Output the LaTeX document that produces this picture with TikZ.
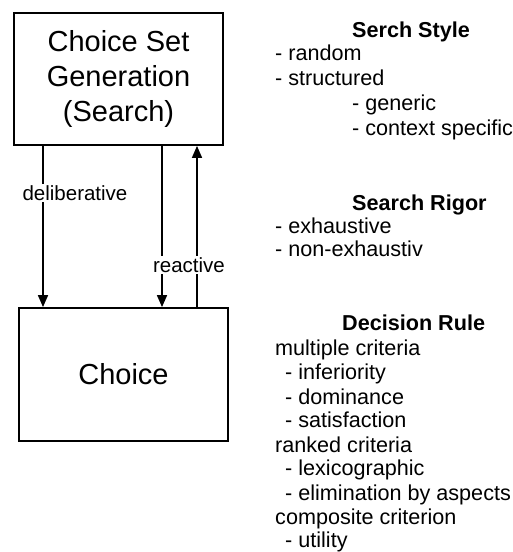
\documentclass[tikz,border=0pt]{standalone}
\usepackage{fontspec}
\setmainfont{Liberation Sans}
\usetikzlibrary{arrows.meta}
\begin{document}
\begin{tikzpicture}[x=1pt,y=-1pt,
  box/.style={draw,line width=1.8pt,minimum width=209pt,inner sep=0pt,align=center,
    font=\fontsize{29}{35}\selectfont},
  arr/.style={line width=1.6pt,-{Triangle[length=12pt,width=10pt]}},
  lbl/.style={fill=white,inner sep=1pt,font=\fontsize{20.5}{24}\selectfont},
  item/.style={anchor=base west,inner sep=0pt,font=\fontsize{21.6}{25}\selectfont},
  head/.style={item,font=\fontsize{21.6}{25}\selectfont\bfseries}]
\useasboundingbox (0,0) rectangle (512,552);

% process boxes
\node[box,minimum height=132pt] (gen) at (118.5,79) {Choice Set\\Generation\\(Search)};
\node[box,minimum height=133pt] (choice) at (123.5,374.5) {Choice};

% connector columns
\coordinate (xa) at (43,0);
\coordinate (xb) at (162,0);
\coordinate (xc) at (197,0);
\draw[arr] (gen.south -| xa) -- (choice.north -| xa);
\draw[arr] (gen.south -| xb) -- (choice.north -| xb);
\draw[arr] (choice.north -| xc) -- (gen.south -| xc);
\node[lbl] (ldelib) at (75,193) {deliberative};
\node[lbl] (lreact) at (189,265) {reactive};

% search style
\node[head] (h1) at (352,37) {Serch Style};
\node[item] (s1) at (275,60) {- random};
\node[item] (s2) at (275,85) {- structured};
\node[item] (s3) at (352,110) {- generic};
\node[item] (s4) at (352,135) {- context specific};

% search rigor
\node[head] (h2) at (352,210) {Search Rigor};
\node[item] (r1) at (275,233) {- exhaustive};
\node[item] (r2) at (275,256) {- non-exhaustiv};

% decision rule
\node[head] (h3) at (342,330) {Decision Rule};
\node[item] (d1) at (275,355) {multiple criteria};
\node[item] (d2) at (285,379) {- inferiority};
\node[item] (d3) at (285,404) {- dominance};
\node[item] (d4) at (285,427) {- satisfaction};
\node[item] (d5) at (275,452) {ranked criteria};
\node[item] (d6) at (285,475) {- lexicographic};
\node[item] (d7) at (285,500) {- elimination by aspects};
\node[item] (d8) at (275,524) {composite criterion};
\node[item] (d9) at (285,547) {- utility};
\end{tikzpicture}
\end{document}
